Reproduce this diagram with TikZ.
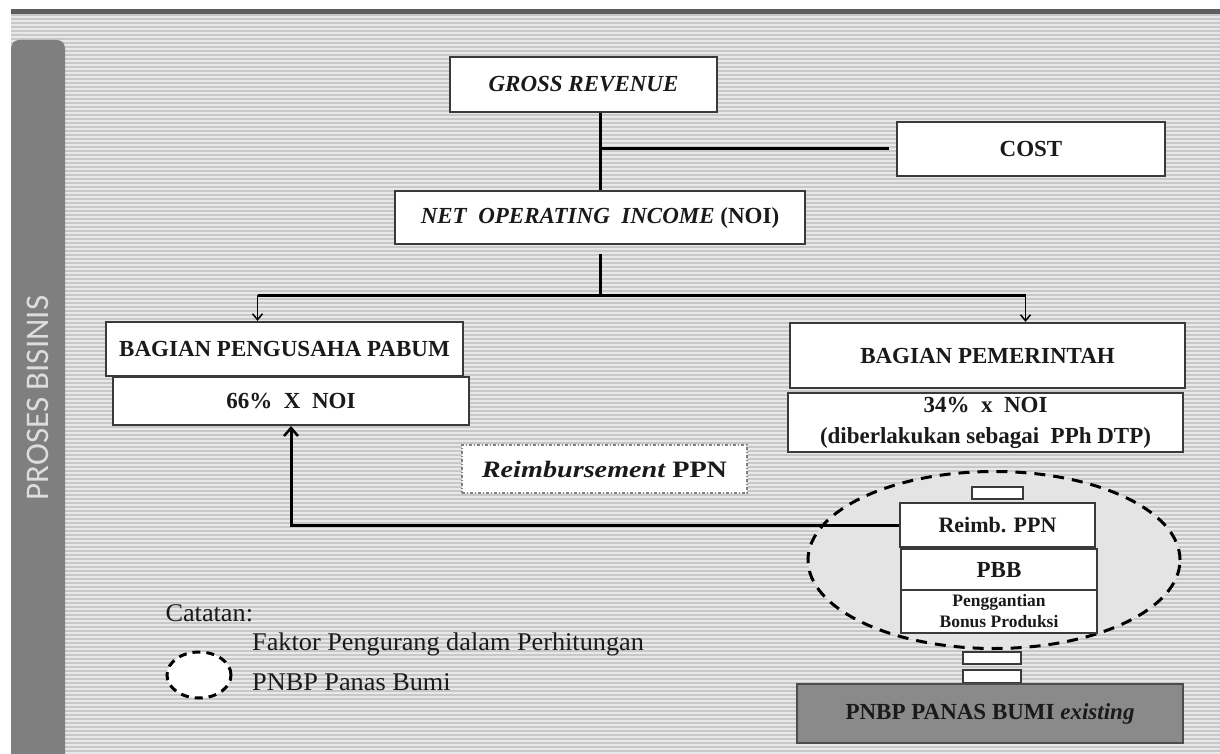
\documentclass[tikz,border=0pt]{standalone}
\usepackage{fontspec}
\setmainfont{Liberation Serif}
\newfontfamily\calibri{Carlito}
\newfontfamily\cambriaA[FakeStretch=1.03]{Liberation Serif}
\newfontfamily\cambriaB[FakeStretch=1.2]{Liberation Serif}
\usetikzlibrary{arrows.meta,shapes.geometric}
\definecolor{bgA}{HTML}{E8E8E8}
\definecolor{bgB}{HTML}{C8C8C8}
\definecolor{barG}{HTML}{7F7F7F}
\definecolor{topG}{HTML}{5E5E5E}
\definecolor{boxB}{HTML}{3A3A3A}
\definecolor{ellF}{HTML}{E4E4E4}
\definecolor{pnbpF}{HTML}{8A8A8A}
\definecolor{sideT}{HTML}{DDDDDD}
\definecolor{txt}{HTML}{1A1A1A}
\begin{document}
\begin{tikzpicture}[x=1pt,y=-1pt,
  box/.style={draw=boxB, line width=2.2pt, fill=white, inner sep=0pt, text=txt, align=center,
    font=\fontsize{23}{31}\selectfont\bfseries},
  smallbox/.style={draw=boxB, line width=1.6pt, fill=white, inner sep=0pt},
  conn/.style={line width=3pt, black},
  thinarrow/.style={line width=1.8pt, black, -{Straight Barb[length=6pt,width=10pt,line width=1.5pt]}},
  bigarrow/.style={line width=3pt, black, -{Straight Barb[length=8pt,width=14pt,line width=2.5pt]}},
  bigell/.style={ellipse, draw=black, fill=ellF, line width=3pt, dash pattern=on 11pt off 8pt, inner sep=0pt},
  legell/.style={ellipse, draw=black, fill=white, line width=3pt, dash pattern=on 8pt off 6pt, inner sep=0pt},
  reimbnote/.style={draw=gray, line width=1.3pt, dash pattern=on 3pt off 2pt on 1pt off 2pt, fill=white, inner sep=0pt}
]
\useasboundingbox (0,0) rectangle (1220,754);
\fill[white] (0,0) rectangle (1220,754);
% striped background
\fill[bgA] (11,14) rectangle (1220,754);
\foreach \y in {15,19,...,753} \draw[bgB, line width=1.3pt] (11,\y) -- (1220,\y);
% top bar
\fill[topG] (11,9) rectangle (1220,14);
% left side bar
\fill[barG] (11,754) [rounded corners=8pt]-- (11,40) -- (65,40) [sharp corners]-- (65,754) -- cycle;
\node[rotate=90, text=sideT, font=\calibri\fontsize{33}{36}\selectfont] (side) at (38,398) {PROSES BISINIS};

% top boxes
\node[box, minimum width=267pt, minimum height=55pt, font=\fontsize{23}{26}\selectfont\bfseries\itshape] (gross) at (583.5,84.5) {GROSS REVENUE};
\node[box, minimum width=268pt, minimum height=54pt] (cost) at (1031,149) {COST};
\node[box, minimum width=410pt, minimum height=53pt] (noi) at (600,217.5) {\itshape NET\ \ OPERATING\ \ INCOME \upshape(NOI)};

\draw[conn] (gross.south -| noi.north) -- (noi.north);
\coordinate (costend) at ([xshift=-7pt]cost.west);
\draw[conn] (noi.north |- costend) -- (costend);

% split
\coordinate (noidown) at ([yshift=-9pt]noi.south);
\coordinate (split) at (600,295);
\draw[conn] (noidown) -- (split);

% left side boxes
\node[box, minimum width=357pt, minimum height=54pt] (peng) at (284.5,349) {BAGIAN PENGUSAHA PABUM};
\node[box, minimum width=356pt, minimum height=48pt] (sixty) at (291,401) {66\%\ \ X\ \ NOI};
% right side boxes
\node[box, minimum width=395pt, minimum height=65pt] (pem) at (987.5,355.5) {BAGIAN PEMERINTAH};
\node[box, minimum width=395pt, minimum height=59pt] (thirty) at (985.5,422.5) {34\%\ \ x\ \ NOI\\(diberlakukan sebagai\ \ PPh DTP)};

\coordinate (larr) at ([xshift=-27pt]peng.north);
\coordinate (rarr) at ([xshift=38pt]pem.north);
\draw[conn] (split -| larr) -- (split -| rarr);
\draw[thinarrow] (split -| larr) -- (larr);
\draw[thinarrow] (split -| rarr) -- (rarr);

% reimbursement note
\node[reimbnote, minimum width=285pt, minimum height=48pt, font=\cambriaB\fontsize{23.5}{26}\selectfont\bfseries, text=txt] (note) at (604.5,469) {\itshape Reimbursement \upshape PPN};

% ellipse group
\node[bigell, minimum width=372pt, minimum height=177pt] (ell) at (994,560) {};
\node[smallbox, minimum width=51pt, minimum height=12pt] (s0) at (997.5,493) {};
\node[box, minimum width=195pt, minimum height=44pt, font=\fontsize{22}{26}\selectfont\bfseries] (rppn) at (997.5,525) {Reimb. PPN};
\node[box, minimum width=196pt, minimum height=41pt] (pbb) at (999,569.5) {PBB};
\node[box, minimum width=196pt, minimum height=43pt, font=\fontsize{17.5}{21}\selectfont\bfseries] (pgb) at (999,611.5) {Penggantian\\Bonus Produksi};
\node[smallbox, minimum width=58pt, minimum height=12pt] (s1) at (992,658) {};
\node[smallbox, minimum width=58pt, minimum height=13pt] (s2) at (992,676.5) {};
\node[box, fill=pnbpF, draw=gray!60!black, minimum width=386pt, minimum height=59pt] (pnbp) at (990,713.5) {PNBP PANAS BUMI \itshape existing};

% feedback arrow
\draw[bigarrow] (rppn.west) -| (sixty.south);

% legend
\node[anchor=west, text=txt, font=\cambriaA\fontsize{25.5}{28}\selectfont] (catatan) at (162,613) {Catatan:};
\node[legell, minimum width=64pt, minimum height=46pt] (legell) at (199,675) {};
\node[anchor=west, align=left, text=txt, font=\cambriaA\fontsize{25.5}{40}\selectfont, inner sep=0pt] (legtext) at (252,662) {Faktor Pengurang dalam Perhitungan\\PNBP Panas Bumi};
\end{tikzpicture}
\end{document}
